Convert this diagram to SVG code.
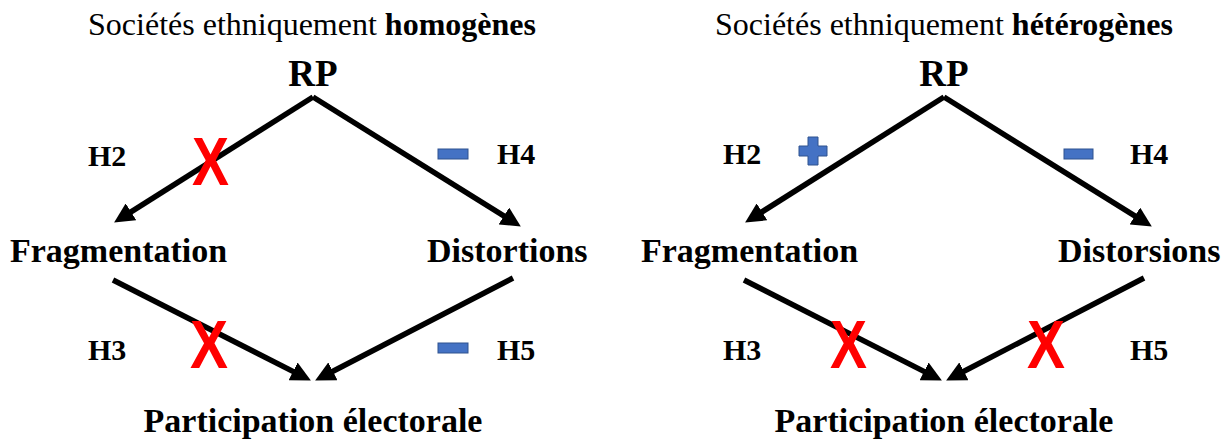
<svg xmlns="http://www.w3.org/2000/svg" width="1228" height="440" viewBox="0 0 1228 440">
<style>
.title{font-family:"Liberation Serif",serif;font-size:32px;fill:#000}
.b{font-weight:bold}
.node{font-family:"Liberation Serif",serif;font-weight:bold;font-size:34px;fill:#000}
.rp{font-family:"Liberation Serif",serif;font-weight:bold;font-size:37px;fill:#000}
.h{font-family:"Liberation Serif",serif;font-weight:bold;font-size:30px;fill:#000}
.x{font-family:"Liberation Sans",sans-serif;font-weight:bold;font-size:68px;fill:#FF0000}
.sign{fill:#4472C4;stroke:#2F528F;stroke-width:1}
.arr{stroke:#000;stroke-width:5.5;fill:none;marker-end:url(#ah)}
</style>
<defs>
<marker id="ah" markerUnits="userSpaceOnUse" viewBox="0 0 20 20" markerWidth="20" markerHeight="20" refX="7" refY="10" orient="auto">
<path d="M0,0 L20,10 L0,20 z" fill="#000"/>
</marker>
<g id="arrows-set">
<path class="arr" d="M313,97 L125.1,215.6"/>
<path class="arr" d="M313,97 L509.8,219.7"/>
<path class="arr" d="M113,280 L299.3,374.6"/>
<path class="arr" d="M513,278 L326.7,374.5"/>
</g>
</defs>
<g id="connectors">
<use href="#arrows-set"/>
<use href="#arrows-set" transform="translate(631,0)"/>
</g>
<g id="left-panel">
<g id="title-left"><text class="title" x="312" y="35" text-anchor="middle">Sociétés ethniquement <tspan class="b">homogènes</tspan></text></g>
<g id="rp-left"><text class="rp" x="313" y="86" text-anchor="middle">RP</text></g>
<g id="frag-left"><text class="node" x="10" y="262">Fragmentation</text></g>
<g id="dist-left"><text class="node" x="427" y="262">Distortions</text></g>
<g id="part-left"><text class="node" x="313" y="432" text-anchor="middle">Participation électorale</text></g>
<g id="h-left">
<text class="h" x="88" y="166">H2</text>
<text class="h" x="497" y="164">H4</text>
<text class="h" x="88" y="360">H3</text>
<text class="h" x="497" y="360">H5</text>
</g>
<g id="marks-left">
<text class="x" x="192" y="185" textLength="37" lengthAdjust="spacingAndGlyphs">X</text>
<text class="x" x="190" y="368" textLength="38" lengthAdjust="spacingAndGlyphs">X</text>
<rect class="sign" x="438" y="149" width="30" height="10"/>
<rect class="sign" x="438" y="343" width="30" height="10"/>
</g>
</g>
<g id="right-panel">
<g id="title-right"><text class="title" x="944" y="35" text-anchor="middle">Sociétés ethniquement <tspan class="b">hétérogènes</tspan></text></g>
<g id="rp-right"><text class="rp" x="944" y="86" text-anchor="middle">RP</text></g>
<g id="frag-right"><text class="node" x="641" y="262">Fragmentation</text></g>
<g id="dist-right"><text class="node" x="1058" y="262">Distorsions</text></g>
<g id="part-right"><text class="node" x="944" y="432" text-anchor="middle">Participation électorale</text></g>
<g id="h-right">
<text class="h" x="723" y="164">H2</text>
<text class="h" x="1130" y="164">H4</text>
<text class="h" x="723" y="360">H3</text>
<text class="h" x="1130" y="360">H5</text>
</g>
<g id="marks-right">
<path class="sign" d="M808,137 H818 V146 H827 V156 H818 V165 H808 V156 H799 V146 H808 Z"/>
<rect class="sign" x="1064" y="149" width="29" height="10"/>
<text class="x" x="830" y="368" textLength="37" lengthAdjust="spacingAndGlyphs">X</text>
<text class="x" x="1027" y="368" textLength="38" lengthAdjust="spacingAndGlyphs">X</text>
</g>
</g>
</svg>
